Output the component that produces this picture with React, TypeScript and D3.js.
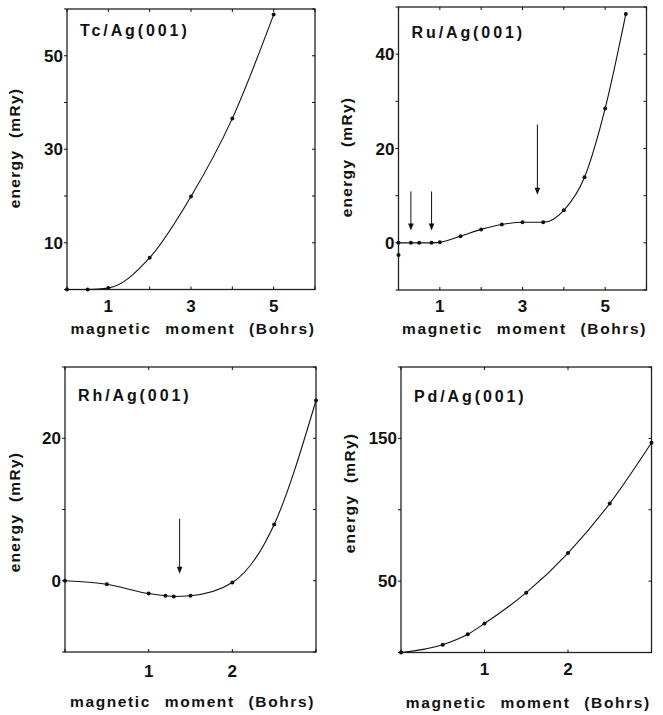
import React, { useEffect, useRef } from "react";
import * as d3 from "d3";

// Tc/Ag(001)
const tcMoment = [0, 0.5, 1, 2, 3, 4, 5];
const tcEnergy = [0, 0, 0.3, 6.8, 19.9, 36.6, 58.8];
// Ru/Ag(001)
const ruMoment = [0, 0.3, 0.5, 0.8, 1, 1.5, 2, 2.5, 3, 3.5, 4, 4.5, 5, 5.5];
const ruEnergy = [0, 0, 0, 0, 0.1, 1.4, 2.85, 3.9, 4.35, 4.35, 6.9, 13.9, 28.5, 48.5];
const ruStrayMoment = [0];
const ruStrayEnergy = [-2.6];
const ruArrowX = [0.3, 0.8, 3.36];
const ruArrowTop = [10.9, 10.9, 25.1];
const ruArrowTip = [2.6, 2.6, 10.2];
// Rh/Ag(001)
const rhMoment = [0, 0.5, 1, 1.2, 1.3, 1.5, 2, 2.5, 3];
const rhEnergy = [0, -0.5, -1.8, -2.1, -2.2, -2.1, -0.25, 7.9, 25.3];
const rhArrowX = [1.37];
const rhArrowTop = [8.7];
const rhArrowTip = [1.0];
// Pd/Ag(001)
const pdMoment = [0, 0.5, 0.8, 1, 1.5, 2, 2.5, 3];
const pdEnergy = [0, 5.5, 12.8, 20.3, 41.9, 69.7, 104.4, 147];

const tcYLabels = [10, 30, 50];
const ruYLabels = [0, 20, 40];
const rhYLabels = [0, 20];
const pdYLabels = [50, 150];
const wideXLabels = [1, 3, 5];
const narrowXLabels = [1, 2];

const FONT = "'Liberation Sans', Arial, sans-serif";

const panels = [
  {
    title: "Tc/Ag(001)", x: tcMoment, y: tcEnergy, box: [67, 315, 9, 289.5],
    xDom: [0, 6], yDom: [0, 60], xStep: 1, yStep: 10, xLab: wideXLabels, yLab: tcYLabels,
    arrows: [], stray: [], titleY: 36, tickY: 312, labelY: 334, yLabelX: 20, yLabelY: 148,
  },
  {
    title: "Ru/Ag(001)", x: ruMoment, y: ruEnergy, box: [398.5, 646.5, 7, 290],
    xDom: [0, 6], yDom: [-10, 50], xStep: 1, yStep: 10, xLab: wideXLabels, yLab: ruYLabels,
    arrows: ruArrowX.map((a, i) => [a, ruArrowTop[i], ruArrowTip[i]]),
    stray: ruStrayMoment.map((m, i) => [m, ruStrayEnergy[i]]),
    titleY: 38, tickY: 312, labelY: 334, yLabelX: 352, yLabelY: 157,
  },
  {
    title: "Rh/Ag(001)", x: rhMoment, y: rhEnergy, box: [65, 316, 367, 652],
    xDom: [0, 3], yDom: [-10, 30], xStep: 1, yStep: 10, xLab: narrowXLabels, yLab: rhYLabels,
    arrows: rhArrowX.map((a, i) => [a, rhArrowTop[i], rhArrowTip[i]]),
    stray: [], titleY: 401, tickY: 677, labelY: 707, yLabelX: 20, yLabelY: 512,
  },
  {
    title: "Pd/Ag(001)", x: pdMoment, y: pdEnergy, box: [401, 651.5, 367, 652.5],
    xDom: [0, 3], yDom: [0, 200], xStep: 1, yStep: 50, xLab: narrowXLabels, yLab: pdYLabels,
    arrows: [], stray: [], titleY: 402, tickY: 675, labelY: 708, yLabelX: 355, yLabelY: 493,
  },
];

const App = () => {
  const ref = useRef<SVGSVGElement>(null);

  useEffect(() => {
    const svg = d3.select(ref.current);
    svg.selectAll("*").remove();
    const ink = "#111";

    panels.forEach((p) => {
      const [l, r, t, b] = p.box;
      const xs = d3.scaleLinear().domain(p.xDom).range([l, r]);
      const ys = d3.scaleLinear().domain(p.yDom).range([b, t]);
      const g = svg.append("g");

      // frame
      g.append("rect")
        .attr("x", l).attr("y", t).attr("width", r - l).attr("height", b - t)
        .attr("fill", "none").attr("stroke", "#222").attr("stroke-width", 1.3);

      // ticks
      const xt = d3.range(p.xDom[0], p.xDom[1] + 1e-9, p.xStep);
      const yt = d3.range(p.yDom[0], p.yDom[1] + 1e-9, p.yStep);
      g.selectAll(".xt").data(xt).join("line")
        .attr("x1", (d) => xs(d)).attr("x2", (d) => xs(d))
        .attr("y1", b).attr("y2", b - 3)
        .attr("stroke", ink).attr("stroke-width", 1);
      g.selectAll(".xtt").data(xt).join("line")
        .attr("x1", (d) => xs(d)).attr("x2", (d) => xs(d))
        .attr("y1", t).attr("y2", t + 3)
        .attr("stroke", ink).attr("stroke-width", 1);
      g.selectAll(".yt").data(yt).join("line")
        .attr("x1", l - 3).attr("x2", l)
        .attr("y1", (d) => ys(d)).attr("y2", (d) => ys(d))
        .attr("stroke", ink).attr("stroke-width", 1);
      g.selectAll(".ytr").data(yt).join("line")
        .attr("x1", r - 3).attr("x2", r)
        .attr("y1", (d) => ys(d)).attr("y2", (d) => ys(d))
        .attr("stroke", ink).attr("stroke-width", 1);

      // tick labels
      g.selectAll(".xl").data(p.xLab).join("text")
        .attr("x", (d) => xs(d)).attr("y", p.tickY)
        .attr("text-anchor", "middle")
        .attr("font-family", FONT).attr("font-weight", "bold").attr("font-size", 17)
        .attr("fill", ink).text((d) => d);
      g.selectAll(".yl").data(p.yLab).join("text")
        .attr("x", l - 4).attr("y", (d) => ys(d) + 6)
        .attr("text-anchor", "end")
        .attr("font-family", FONT).attr("font-weight", "bold").attr("font-size", 17)
        .attr("fill", ink).text((d) => d);

      // curve
      const pts = p.x.map((v, i) => [v, p.y[i]] as [number, number]);
      const line = d3.line<[number, number]>()
        .x((d) => xs(d[0])).y((d) => ys(d[1]))
        .curve(d3.curveMonotoneX);
      g.append("path").attr("d", line(pts))
        .attr("fill", "none").attr("stroke", ink).attr("stroke-width", 1.1);
      g.selectAll(".pt").data(pts.concat(p.stray as [number, number][])).join("circle")
        .attr("cx", (d) => xs(d[0])).attr("cy", (d) => ys(d[1]))
        .attr("r", 2).attr("fill", ink);

      // arrows
      p.arrows.forEach(([ax, top, tip]) => {
        const x0 = xs(ax);
        const y0 = ys(top);
        const y1 = ys(tip);
        g.append("line").attr("x1", x0).attr("x2", x0).attr("y1", y0).attr("y2", y1 - 6)
          .attr("stroke", ink).attr("stroke-width", 1);
        g.append("path")
          .attr("d", `M${x0 - 2.8},${y1 - 7} L${x0 + 2.8},${y1 - 7} L${x0},${y1} Z`)
          .attr("fill", ink);
      });

      // title
      g.append("text")
        .attr("x", l + 13).attr("y", p.titleY)
        .attr("font-family", FONT).attr("font-weight", "bold").attr("font-size", 16)
        .attr("letter-spacing", 2.9).attr("fill", ink).text(p.title);

      // axis labels
      g.append("text")
        .attr("x", (l + r) / 2 + 2).attr("y", p.labelY)
        .attr("text-anchor", "middle")
        .attr("font-family", FONT).attr("font-weight", "bold").attr("font-size", 15.5)
        .attr("letter-spacing", 1.6).attr("word-spacing", 8)
        .attr("fill", ink).text("magnetic moment (Bohrs)");
      g.append("text")
        .attr("transform", `translate(${p.yLabelX},${p.yLabelY}) rotate(-90)`)
        .attr("text-anchor", "middle")
        .attr("font-family", FONT).attr("font-weight", "bold").attr("font-size", 15.5)
        .attr("letter-spacing", 1.3).attr("word-spacing", 6)
        .attr("fill", ink).text("energy (mRy)");
    });
  }, []);

  return (
    <div style={{ position: "absolute", left: 0, top: 0 }}>
      <svg ref={ref} width={663} height={715} style={{ display: "block", background: "#fff" }}></svg>
    </div>
  );
};

export default App;
